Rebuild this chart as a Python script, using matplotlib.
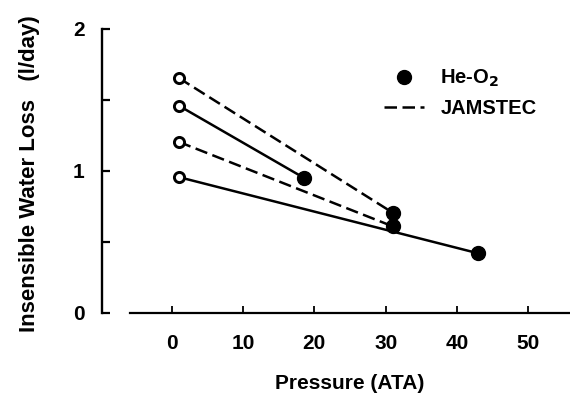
import matplotlib
matplotlib.use('Agg')
import matplotlib.pyplot as plt
from matplotlib.lines import Line2D

plt.rcParams['font.family'] = ['Liberation Sans', 'DejaVu Sans']
plt.rcParams['font.weight'] = 'bold'

# Data: each series goes from surface (1 ATA, open circle) to He-O2 depth (filled dot)
series_x = [[1, 31], [1, 18.6], [1, 31], [1, 43]]
series_y = [[1.655, 0.706], [1.46, 0.95], [1.205, 0.61], [0.957, 0.42]]
series_dashed = [True, False, True, False]

surface_x = [1, 1, 1, 1]
surface_y = [1.655, 1.46, 1.205, 0.957]
heo2_x = [18.6, 31, 31, 43]
heo2_y = [0.95, 0.706, 0.61, 0.42]

x_ticks = [0, 10, 20, 30, 40, 50]
y_ticks = [0, 0.5, 1, 1.5, 2]
y_ticklabels = ['0', '', '1', '', '2']

fig = plt.figure(figsize=(5.7, 3.99), dpi=100)
ax = fig.add_axes([130/570, 86/399, 440/570, 284/399])

dash_style = (0, (5.0, 2.2))
for xs, ys, d in zip(series_x, series_y, series_dashed):
    ax.plot(xs, ys, color='black', lw=1.8,
            linestyle=dash_style if d else '-', zorder=2)

ax.plot(surface_x, surface_y, linestyle='none', marker='o', markersize=7.3,
        markerfacecolor='white', markeredgecolor='black', markeredgewidth=2.1, zorder=3)
ax.plot(heo2_x, heo2_y, linestyle='none', marker='o', markersize=10,
        color='black', zorder=3)

ax.set_xlim(-5.85, 55.85)
ax.set_ylim(0, 2)

for s in ['top', 'right']:
    ax.spines[s].set_visible(False)
ax.spines['left'].set_position(('outward', 20))
ax.spines['left'].set_linewidth(1.7)
ax.spines['bottom'].set_linewidth(1.6)

ax.set_xticks(x_ticks)
ax.set_xticklabels([str(t) for t in x_ticks])
ax.set_yticks(y_ticks)
ax.set_yticklabels(y_ticklabels)
ax.tick_params(axis='x', direction='in', length=5, width=1.3, pad=15, labelsize=15)
ax.tick_params(axis='y', direction='in', length=5.5, width=1.6, pad=12.5, labelsize=15)

ax.set_xlabel('Pressure (ATA)', fontsize=15, fontweight='bold')
ax.xaxis.set_label_coords(0.5, -0.215)
ax.set_ylabel('Insensible Water Loss   (l/day)', fontsize=16, fontweight='bold')
ax.yaxis.set_label_coords(-0.205, 0.49)

handles = [Line2D([], [], linestyle='none', marker='o', markersize=10, color='black'),
           Line2D([], [], color='black', lw=1.8, linestyle=dash_style)]
leg = ax.legend(handles, ['He-O$_\\mathbf{2}$', 'JAMSTEC'], frameon=False,
                loc='upper left', bbox_to_anchor=(384/570, 1 - 68/399),
                bbox_transform=fig.transFigure, fontsize=14.5,
                handlelength=2.0, handletextpad=0.8, labelspacing=0.5,
                borderpad=0, borderaxespad=0)

fig.savefig('out.png', dpi=100)
